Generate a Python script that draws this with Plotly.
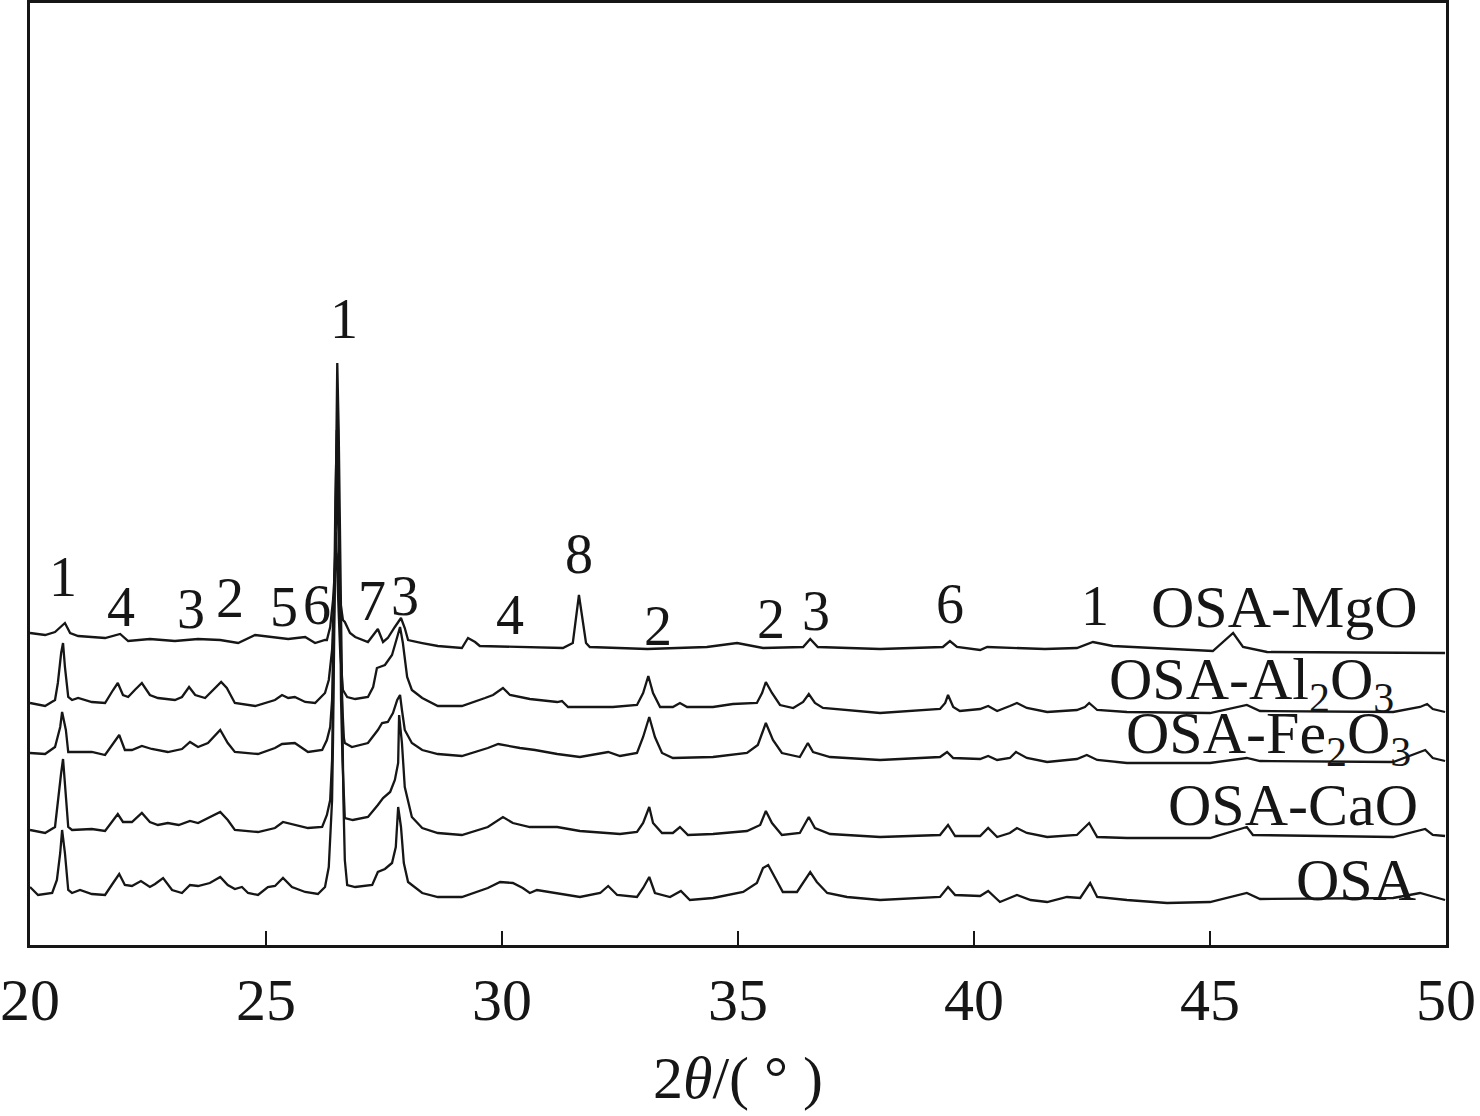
import plotly.graph_objects as go

# ---- data (2theta in degrees, intensity in a.u., stacked) ----
mgo_x = [20.00, 20.32, 20.53, 20.74, 20.85, 21.02, 21.59, 21.91, 22.08, 22.54, 23.07, 23.56, 24.03, 24.41, 24.77,
         25.47, 25.83, 26.04, 26.25, 26.29, 26.36, 26.42, 26.46, 26.49, 26.53, 26.57, 26.63, 26.67, 26.78, 26.89,
         27.16, 27.37, 27.48, 27.58, 27.73, 27.86, 27.94, 28.01, 28.31, 28.64, 29.15, 29.28, 29.43, 29.53, 31.29,
         31.50, 31.63, 31.78, 31.86, 33.08, 34.34, 34.98, 35.53, 36.38, 36.53, 36.69, 38.01, 39.34, 39.49, 39.64,
         40.13, 40.28, 41.50, 42.18, 42.52, 42.94, 45.06, 45.49, 45.70, 46.21, 49.98]
mgo_y = [312, 310, 313, 322, 312, 309, 307, 311, 304, 306, 304, 306, 305, 302, 310,
         306, 308, 302, 305, 305, 318, 345, 375, 392, 375, 345, 325, 323, 312, 308,
         303, 316, 303, 307, 318, 327, 317, 305, 302, 299, 297, 307, 303, 299, 297,
         302, 350, 302, 298, 296, 298, 302, 297, 298, 306, 298, 296, 298, 304, 298,
         295, 298, 296, 297, 303, 299, 294, 312, 298, 293, 292]

al_x = [20.00, 20.32, 20.53, 20.59, 20.66, 20.70, 20.74, 20.81, 20.89, 21.02, 21.31, 21.59, 21.76, 21.86, 21.97,
        22.08, 22.22, 22.37, 22.54, 22.71, 23.07, 23.22, 23.37, 23.50, 23.71, 23.88, 24.05, 24.17, 24.34, 24.77,
        25.19, 25.34, 25.47, 25.61, 25.83, 26.04, 26.25, 26.33, 26.40, 26.44, 26.48, 26.53, 26.57, 26.63, 26.72,
        26.89, 27.16, 27.27, 27.35, 27.52, 27.67, 27.78, 27.84, 27.90, 27.99, 28.09, 28.31, 28.64, 29.15, 29.64,
        29.81, 30.02, 30.17, 30.59, 31.17, 31.27, 31.40, 32.35, 32.86, 32.99, 33.10, 33.20, 33.35, 33.62, 33.77,
        33.92, 34.47, 34.89, 35.40, 35.51, 35.59, 35.72, 35.89, 36.17, 36.38, 36.50, 36.63, 36.80, 38.01, 39.28,
        39.39, 39.45, 39.56, 39.70, 40.13, 40.30, 40.49, 40.76, 40.91, 41.12, 41.55, 42.18, 42.35, 42.44, 42.61,
        43.24, 45.00, 45.78, 46.06, 48.88, 49.45, 49.60, 49.72, 49.98]
al_y = [242, 239, 245, 262, 292, 302, 278, 248, 245, 247, 243, 242, 255, 262, 250,
        248, 255, 262, 250, 247, 245, 248, 258, 250, 247, 255, 263, 257, 242, 239,
        245, 250, 247, 248, 243, 242, 252, 265, 295, 345, 413, 345, 295, 255, 248,
        246, 248, 258, 277, 280, 290, 308, 318, 302, 268, 255, 247, 239, 239, 247,
        250, 257, 250, 246, 243, 244, 238, 238, 240, 252, 269, 252, 238, 238, 242,
        238, 238, 241, 242, 252, 263, 252, 240, 237, 243, 251, 242, 237, 232, 236,
        242, 250, 238, 234, 236, 239, 234, 239, 242, 237, 233, 235, 238, 242, 235,
        233, 232, 240, 234, 233, 238, 241, 236, 233]

fe_x = [20.00, 20.32, 20.53, 20.64, 20.68, 20.76, 20.81, 21.31, 21.59, 21.76, 21.89, 22.01, 22.16, 22.37, 22.58,
        22.92, 23.22, 23.39, 23.56, 23.77, 24.03, 24.19, 24.34, 24.83, 25.19, 25.34, 25.61, 25.89, 26.19, 26.29,
        26.36, 26.40, 26.44, 26.47, 26.50, 26.54, 26.57, 26.61, 26.65, 26.67, 26.82, 27.16, 27.37, 27.46, 27.58,
        27.69, 27.78, 27.84, 27.88, 27.94, 28.09, 28.31, 28.64, 29.15, 29.70, 29.92, 30.38, 30.70, 31.17, 31.65,
        32.25, 32.50, 32.86, 32.99, 33.12, 33.24, 33.39, 33.62, 34.47, 35.19, 35.42, 35.59, 35.74, 35.93, 36.31,
        36.48, 36.59, 36.95, 38.01, 39.28, 39.43, 39.56, 40.13, 40.30, 40.49, 40.76, 40.89, 41.12, 41.55, 42.18,
        42.39, 42.61, 43.24, 45.00, 45.78, 46.06, 48.88, 49.56, 49.72, 49.98]
fe_y = [192, 191, 198, 218, 233, 215, 193, 193, 190, 202, 210, 195, 195, 199, 196,
        193, 196, 203, 198, 202, 215, 202, 193, 191, 197, 201, 202, 193, 195, 205,
        218, 245, 325, 405, 465, 405, 325, 245, 207, 202, 198, 202, 215, 222, 223,
        232, 245, 250, 235, 215, 202, 195, 191, 189, 197, 201, 197, 195, 191, 188,
        193, 189, 192, 208, 228, 208, 192, 187, 188, 192, 200, 222, 205, 192, 188,
        202, 193, 188, 185, 188, 193, 187, 186, 189, 185, 187, 193, 187, 183, 186,
        190, 185, 182, 182, 187, 184, 183, 195, 187, 184]

cao_x = [20.00, 20.32, 20.53, 20.59, 20.66, 20.70, 20.74, 20.81, 20.89, 21.31, 21.59, 21.76, 21.86, 21.97, 22.16,
         22.37, 22.54, 22.71, 22.92, 23.15, 23.39, 23.56, 23.77, 24.03, 24.19, 24.34, 24.83, 25.19, 25.36, 25.61,
         25.89, 26.19, 26.29, 26.36, 26.40, 26.42, 26.44, 26.47, 26.50, 26.54, 26.57, 26.59, 26.62, 26.65, 26.67,
         26.84, 27.16, 27.37, 27.48, 27.63, 27.73, 27.80, 27.82, 27.88, 27.94, 28.09, 28.31, 28.64, 29.15, 29.70,
         30.02, 30.23, 30.59, 31.17, 31.65, 32.50, 32.86, 32.99, 33.12, 33.20, 33.39, 33.62, 33.77, 33.94, 34.47,
         35.19, 35.47, 35.59, 35.72, 35.93, 36.31, 36.50, 36.63, 36.95, 38.01, 39.28, 39.45, 39.60, 40.13, 40.30,
         40.49, 40.76, 40.91, 41.12, 41.55, 42.18, 42.35, 42.44, 42.61, 43.24, 45.00, 45.78, 45.91, 48.88, 49.56,
         49.72, 49.98]
cao_y = [115, 112, 118, 145, 172, 186, 158, 118, 115, 116, 114, 125, 131, 123, 123,
         132, 123, 120, 122, 120, 124, 122, 127, 133, 125, 115, 113, 117, 123, 120,
         117, 118, 130, 145, 185, 245, 345, 445, 515, 445, 345, 245, 185, 135, 127,
         125, 128, 140, 147, 153, 165, 182, 230, 202, 158, 128, 117, 112, 110, 118,
         128, 122, 118, 118, 114, 111, 113, 122, 138, 122, 112, 112, 118, 110, 111,
         114, 120, 134, 122, 110, 112, 128, 117, 111, 108, 110, 120, 109, 109, 117,
         108, 112, 117, 112, 108, 110, 118, 122, 108, 107, 107, 118, 110, 108, 116,
         110, 109]

osa_x = [20.00, 20.17, 20.47, 20.57, 20.64, 20.68, 20.74, 20.81, 20.89, 21.06, 21.31, 21.59, 21.76, 21.89, 22.01,
         22.16, 22.35, 22.54, 22.65, 22.82, 23.01, 23.22, 23.39, 23.56, 23.81, 24.03, 24.19, 24.34, 24.49, 24.62,
         24.83, 25.04, 25.19, 25.36, 25.55, 25.83, 26.10, 26.25, 26.33, 26.40, 26.42, 26.44, 26.46, 26.48, 26.51,
         26.54, 26.57, 26.60, 26.62, 26.64, 26.67, 26.72, 26.89, 27.25, 27.37, 27.52, 27.67, 27.75, 27.80, 27.86,
         27.92, 28.01, 28.31, 28.64, 29.15, 29.70, 29.96, 30.23, 30.44, 30.59, 30.74, 31.17, 31.65, 32.08, 32.25,
         32.44, 32.86, 32.99, 33.12, 33.24, 33.56, 33.79, 33.98, 34.47, 35.11, 35.40, 35.53, 35.64, 35.78, 35.95,
         36.25, 36.42, 36.53, 36.67, 36.89, 37.31, 38.01, 39.28, 39.45, 39.60, 40.13, 40.30, 40.55, 40.91, 41.20,
         41.55, 41.97, 42.25, 42.46, 42.61, 43.24, 44.09, 45.00, 45.78, 46.06, 48.88, 49.45, 49.98]
osa_y = [58, 50, 52, 65, 92, 115, 92, 55, 52, 55, 51, 50, 62, 71, 60,
         59, 64, 58, 61, 67, 55, 52, 60, 59, 62, 68, 60, 56, 58, 52,
         50, 58, 59, 67, 58, 53, 51, 58, 78, 145, 205, 295, 405, 515, 582,
         515, 405, 295, 205, 145, 85, 60, 58, 60, 73, 76, 82, 98, 138, 118,
         82, 63, 52, 48, 48, 57, 63, 62, 57, 52, 55, 52, 48, 52, 59,
         50, 48, 57, 68, 52, 48, 54, 45, 47, 53, 62, 77, 80, 68, 53,
         53, 65, 73, 63, 52, 48, 45, 48, 58, 50, 49, 54, 43, 50, 45,
         43, 48, 47, 62, 48, 45, 42, 43, 52, 46, 47, 52, 45]

series_names = ["OSA-MgO", "OSA-Al2O3", "OSA-Fe2O3", "OSA-CaO", "OSA"]
series_x = [mgo_x, al_x, fe_x, cao_x, osa_x]
series_y = [mgo_y, al_y, fe_y, cao_y, osa_y]

# sample labels (text, x, y)
sample_labels = ["OSA-MgO", "OSA-Al<sub>2</sub>O<sub>3</sub>", "OSA-Fe<sub>2</sub>O<sub>3</sub>", "OSA-CaO", "OSA"]
sample_label_x = [49.45, 48.95, 49.30, 49.45, 49.40]
sample_label_y = [338, 262, 208, 140, 65]

# phase peak labels
peak_text = ["1", "4", "3", "2", "5", "6", "1", "7", "3", "4", "8", "2", "2", "3", "6", "1"]
peak_x = [20.70, 21.93, 23.41, 24.24, 25.38, 26.08, 26.65, 27.25, 27.94, 30.17, 31.63, 33.31, 35.70, 36.65, 39.49, 42.56]
peak_y = [368, 338, 336, 347, 338, 340, 626, 344, 349, 330, 391, 319, 326, 334, 341, 339]

x_ticks = [20, 25, 30, 35, 40, 45, 50]

FONT = "Liberation Serif, Times New Roman, serif"
INK = "#161616"

fig = go.Figure()
for name, xs, ys in zip(series_names, series_x, series_y):
    fig.add_trace(go.Scatter(x=xs, y=ys, mode="lines", name=name,
                             line=dict(color=INK, width=2.3), showlegend=False, hoverinfo="skip"))

for t, x, y in zip(sample_labels, sample_label_x, sample_label_y):
    fig.add_annotation(x=x, y=y, xref="x", yref="y", text=t, showarrow=False,
                       xanchor="right", yanchor="middle", font=dict(family=FONT, size=60, color=INK))

for t, x, y in zip(peak_text, peak_x, peak_y):
    fig.add_annotation(x=x, y=y, xref="x", yref="y", text=t, showarrow=False,
                       xanchor="center", yanchor="middle", font=dict(family=FONT, size=56, color=INK))

fig.update_layout(
    width=1480, height=1116,
    margin=dict(l=30, r=34, t=3, b=171),
    paper_bgcolor="white", plot_bgcolor="white",
    font=dict(family=FONT, size=60, color=INK),
    xaxis=dict(range=[20, 50], tickvals=x_ticks, ticktext=[str(v) for v in x_ticks],
               ticks="inside", ticklen=14, tickwidth=2, tickcolor=INK,
               showline=True, linewidth=3, linecolor=INK, mirror=True,
               showgrid=False, zeroline=False, automargin=False,
               tickfont=dict(family=FONT, size=60, color=INK),
               title=dict(text="2<i>θ</i>/( ° )", font=dict(family=FONT, size=60, color=INK), standoff=24)),
    yaxis=dict(range=[0, 942], showticklabels=False, ticks="",
               showline=True, linewidth=3, linecolor=INK, mirror=True,
               showgrid=False, zeroline=False, automargin=False),
)

fig.write_html("out.html", config={"displayModeBar": False},
               post_script="document.body.style.margin='0';document.body.style.overflow='hidden';")
